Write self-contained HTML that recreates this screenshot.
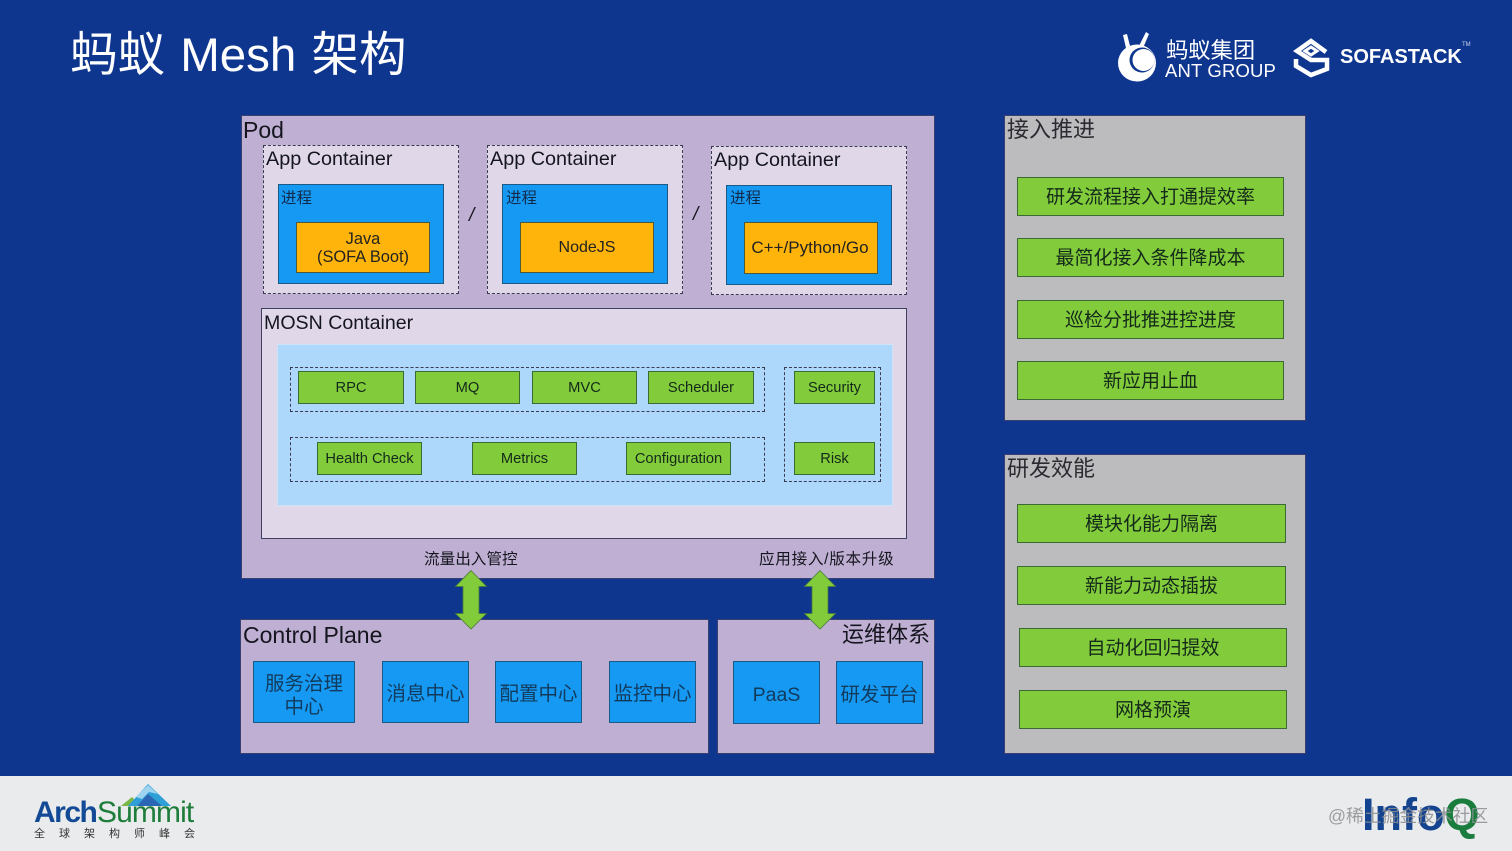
<!DOCTYPE html>
<html lang="zh"><head><meta charset="utf-8"><title>蚂蚁 Mesh 架构</title>
<style>
html,body{margin:0;padding:0;background:#0f368f}
#s{position:relative;width:1512px;height:851px;overflow:hidden;background:#0f368f;font-family:"Liberation Sans","Noto Sans CJK SC",sans-serif;color:#15151f}
#s div{position:absolute;box-sizing:border-box}
.l{white-space:nowrap;line-height:1}
.c{display:flex;align-items:center;justify-content:center;text-align:center}
.lav{background:#bfb0d3;border:1px solid #39406f}
.gray{background:#bcbbbe;border:1px solid #39406f}
.dash{border:1px dashed #3a3a50}
.app{background:#e0d8e8;border:1px dashed #3a3a50}
.pro{background:#1699f2;border:1px solid #1c5a86}
.org{background:#feb40a;border:1px solid #4c5a3a;font-size:16px;line-height:18px;color:#222}
.g{background:#82cc3c;border:1px solid #3c6a36;font-size:14.7px;color:#14291a}
.gb{background:#82cc3c;border:1px solid #3c6a36;font-size:19px;color:#14291a;padding-bottom:2px}
.b{background:#1699f2;border:1px solid #1c5a86;font-size:19.5px;line-height:23px;color:#123a5c;padding-top:5px}
</style></head><body><div id="s">

<div class="l" style="left:70px;top:32px;font-size:47.5px;color:#fff;word-spacing:2px">蚂蚁 Mesh 架构</div>

<svg style="position:absolute;left:1110px;top:28px" width="370" height="58" viewBox="1110 28 370 58">
<g fill="#fff">
<ellipse cx="1137" cy="63" rx="19" ry="18.500"/>
<path d="M1123 35l4-1 3 12-4 2zM1146 32l3 2-6 14-4-2z"/>
</g>
<circle cx="1142" cy="60" r="12.500" fill="#0f368f"/>
<circle cx="1143.500" cy="60" r="11" fill="#fff"/>
<g fill="none" stroke="#fff" stroke-width="4.500" stroke-linejoin="miter">
<path d="M1326 52L1311 41L1297 51L1311 60L1327 60V69L1311 75L1296 66V59"/>
<path d="M1305 51L1311 47L1317 51L1311 55Z" stroke-width="3"/>
</g>
</svg>
<div class="l" style="left:1166px;top:40px;font-size:22.300px;color:#fff">蚂蚁集团</div>
<div class="l" style="left:1165px;top:62px;font-size:18.500px;color:#fff;letter-spacing:.15px">ANT GROUP</div>
<div class="l" style="left:1340px;top:47px;font-size:20px;font-weight:700;color:#fff">SOFASTACK</div>
<div class="l" style="left:1462px;top:42px;font-size:6px;color:#cdd6ea">TM</div>

<!-- Pod -->
<div class="lav" style="left:241px;top:115px;width:694px;height:464px"></div>
<div class="l" style="left:243px;top:119px;font-size:23px">Pod</div>

<div class="app" style="left:263px;top:145px;width:196px;height:149px"></div>
<div class="app" style="left:487px;top:145px;width:196px;height:149px"></div>
<div class="app" style="left:711px;top:146px;width:196px;height:149px"></div>
<div class="l" style="left:266px;top:150px;font-size:19.800px">App Container</div>
<div class="l" style="left:490px;top:150px;font-size:19.800px">App Container</div>
<div class="l" style="left:714px;top:151px;font-size:19.800px">App Container</div>

<div class="pro" style="left:278px;top:184px;width:166px;height:100px"></div>
<div class="pro" style="left:502px;top:184px;width:166px;height:100px"></div>
<div class="pro" style="left:726px;top:185px;width:166px;height:100px"></div>
<div class="l" style="left:281px;top:191px;font-size:15.500px;color:#122a4a">进程</div>
<div class="l" style="left:506px;top:191px;font-size:15.500px;color:#122a4a">进程</div>
<div class="l" style="left:730px;top:191px;font-size:15.500px;color:#122a4a">进程</div>

<div class="org c" style="left:296px;top:222px;width:134px;height:51px;font-size:16.400px">Java<br>(SOFA Boot)</div>
<div class="org c" style="left:520px;top:222px;width:134px;height:51px">NodeJS</div>
<div class="org c" style="left:744px;top:222px;width:134px;height:52px;font-size:17px;padding-right:2px">C++/Python/Go</div>

<div class="l" style="left:469px;top:206px;font-size:19px;font-style:italic">/</div>
<div class="l" style="left:693px;top:205px;font-size:19px;font-style:italic">/</div>

<!-- MOSN -->
<div style="left:261px;top:308px;width:646px;height:231px;background:#e0d8e8;border:1px solid #3f3f62"></div>
<div class="l" style="left:264px;top:314px;font-size:19.600px">MOSN Container</div>
<div style="left:277px;top:344px;width:616px;height:162px;background:#aed7fc;border:1px solid #cfe3f6"></div>

<div class="dash" style="left:290px;top:367px;width:475px;height:45px"></div>
<div class="dash" style="left:290px;top:437px;width:475px;height:45px"></div>
<div class="dash" style="left:784px;top:367px;width:97px;height:115px"></div>

<div class="g c" style="left:298px;top:371px;width:106px;height:33px">RPC</div>
<div class="g c" style="left:415px;top:371px;width:105px;height:33px">MQ</div>
<div class="g c" style="left:532px;top:371px;width:105px;height:33px">MVC</div>
<div class="g c" style="left:648px;top:371px;width:106px;height:33px">Scheduler</div>
<div class="g c" style="left:794px;top:371px;width:81px;height:33px">Security</div>
<div class="g c" style="left:317px;top:442px;width:105px;height:33px">Health Check</div>
<div class="g c" style="left:472px;top:442px;width:105px;height:33px">Metrics</div>
<div class="g c" style="left:626px;top:442px;width:105px;height:33px">Configuration</div>
<div class="g c" style="left:794px;top:442px;width:81px;height:33px">Risk</div>

<div class="l" style="left:424px;top:552px;font-size:15.600px">流量出入管控</div>
<div class="l" style="left:759px;top:552px;font-size:15.600px;letter-spacing:.7px">应用接入/版本升级</div>

<!-- Control plane -->
<div class="lav" style="left:240px;top:619px;width:469px;height:135px"></div>
<div class="l" style="left:243px;top:624px;font-size:23px">Control Plane</div>
<div class="b c" style="left:253px;top:661px;width:102px;height:62px;padding-top:7px">服务治理<br>中心</div>
<div class="b c" style="left:382px;top:661px;width:87px;height:62px">消息中心</div>
<div class="b c" style="left:495px;top:661px;width:87px;height:62px">配置中心</div>
<div class="b c" style="left:609px;top:661px;width:87px;height:62px">监控中心</div>

<div class="lav" style="left:717px;top:619px;width:218px;height:135px"></div>
<div class="l" style="left:842px;top:624px;font-size:22px">运维体系</div>
<div class="b c" style="left:733px;top:661px;width:87px;height:63px">PaaS</div>
<div class="b c" style="left:836px;top:661px;width:87px;height:63px">研发平台</div>

<svg style="position:absolute;left:450px;top:565px" width="390" height="70" viewBox="450 565 390 70">
<path d="M471 570.500l15.500 16h-7.500v27h7.500l-15.500 15.500-15.500-15.500h7.500v-27h-7.500z" fill="#82cc3c" stroke="#4a7a3a" stroke-width=".8"/>
<path d="M820 570.500l15.500 16h-7.500v27h7.500l-15.500 15.500-15.500-15.500h7.500v-27h-7.500z" fill="#82cc3c" stroke="#4a7a3a" stroke-width=".8"/>
</svg>

<!-- Right -->
<div class="gray" style="left:1004px;top:115px;width:302px;height:306px"></div>
<div class="l" style="left:1007px;top:119px;font-size:22px;color:#2a2a30">接入推进</div>
<div class="gb c" style="left:1017px;top:177px;width:267px;height:39px">研发流程接入打通提效率</div>
<div class="gb c" style="left:1017px;top:238px;width:267px;height:39px">最简化接入条件降成本</div>
<div class="gb c" style="left:1017px;top:300px;width:267px;height:39px">巡检分批推进控进度</div>
<div class="gb c" style="left:1017px;top:361px;width:267px;height:39px">新应用止血</div>

<div class="gray" style="left:1004px;top:454px;width:302px;height:300px"></div>
<div class="l" style="left:1007px;top:458px;font-size:22px;color:#2a2a30">研发效能</div>
<div class="gb c" style="left:1017px;top:504px;width:269px;height:39px">模块化能力隔离</div>
<div class="gb c" style="left:1017px;top:566px;width:269px;height:39px">新能力动态插拔</div>
<div class="gb c" style="left:1019px;top:628px;width:268px;height:39px">自动化回归提效</div>
<div class="gb c" style="left:1019px;top:690px;width:268px;height:39px">网格预演</div>

<!-- Footer -->
<div style="left:0;top:776px;width:1512px;height:75px;background:#e9ebec"></div>
<div class="l" style="left:34px;top:798px;font-size:30px;font-weight:700;color:#134a96;letter-spacing:-1.500px">Arch</div>
<div class="l" style="left:97px;top:798px;font-size:30px;color:#1e7d3a;letter-spacing:-.9px">Summit</div>
<svg style="position:absolute;left:115px;top:780px" width="70" height="32" viewBox="115 780 70 32">
<path d="M121 806l11-9 4 4-6 5z" fill="#7ab648"/>
<path d="M128 806l20-22 23 22z" fill="#2f9fd8"/>
<path d="M137 806l11-12 14 12z" fill="#2a66b4"/>
<path d="M136 797l12-12 10 9-9-2-7 7z" fill="#9fd4f0"/>
</svg>
<div class="l" style="left:34px;top:829px;font-size:11px;color:#333;letter-spacing:14px">全球架构师峰会</div>

<div class="l" style="left:1362px;top:792px;font-size:45px;font-weight:700;color:#14448f">Info<span style="color:#1a7d3e">Q</span></div>
<div class="l" style="left:1328px;top:808px;font-size:17.800px;color:#8d8f93;opacity:.85">@稀土掘金技术社区</div>
</div></body></html>
